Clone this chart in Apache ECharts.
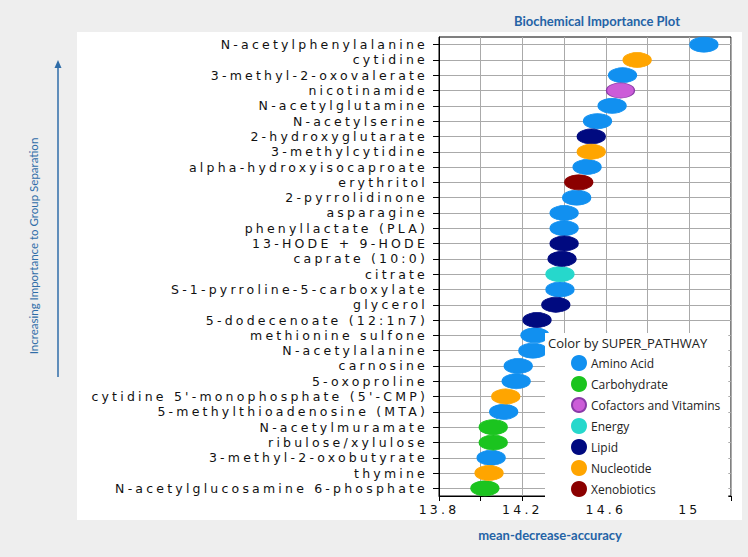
<!DOCTYPE html>
<html>
<head>
<meta charset="utf-8">
<script src="https://cdn.jsdelivr.net/npm/echarts@6/dist/echarts.min.js"></script>
<style>
    html, body { margin: 0; padding: 0; background: #eeeeee; }
    #chart { width: 748px; height: 557px; }
    /* the category / tick labels of the original are drawn very wide */
    #chart text[style*="DejaVu"], #chart text[font-family*="DejaVu"] { letter-spacing: 3.2px; }
</style>
</head>
<body>
<div id="chart"></div>
<script>
// compounds, most important first
const compounds = [
    'N-acetylphenylalanine', 'cytidine', '3-methyl-2-oxovalerate', 'nicotinamide',
    'N-acetylglutamine', 'N-acetylserine', '2-hydroxyglutarate', '3-methylcytidine',
    'alpha-hydroxyisocaproate', 'erythritol', '2-pyrrolidinone', 'asparagine',
    'phenyllactate (PLA)', '13-HODE + 9-HODE', 'caprate (10:0)', 'citrate',
    'S-1-pyrroline-5-carboxylate', 'glycerol', '5-dodecenoate (12:1n7)', 'methionine sulfone',
    'N-acetylalanine', 'carnosine', '5-oxoproline', "cytidine 5'-monophosphate (5'-CMP)",
    '5-methylthioadenosine (MTA)', 'N-acetylmuramate', 'ribulose/xylulose', '3-methyl-2-oxobutyrate',
    'thymine', 'N-acetylglucosamine 6-phosphate'
];

// mean decrease accuracy
const importance = [
    15.07, 14.75, 14.68, 14.67,
    14.63, 14.56, 14.53, 14.53,
    14.51, 14.47, 14.46, 14.40,
    14.40, 14.40, 14.39, 14.38,
    14.38, 14.36, 14.27, 14.26,
    14.25, 14.18, 14.17, 14.12,
    14.11, 14.06, 14.06, 14.05,
    14.04, 14.02
];

// super pathway of each compound
const pathways = [
    'Amino Acid', 'Nucleotide', 'Amino Acid', 'Cofactors and Vitamins',
    'Amino Acid', 'Amino Acid', 'Lipid', 'Nucleotide',
    'Amino Acid', 'Xenobiotics', 'Amino Acid', 'Amino Acid',
    'Amino Acid', 'Lipid', 'Lipid', 'Energy',
    'Amino Acid', 'Lipid', 'Lipid', 'Amino Acid',
    'Amino Acid', 'Amino Acid', 'Amino Acid', 'Nucleotide',
    'Amino Acid', 'Carbohydrate', 'Carbohydrate', 'Amino Acid',
    'Nucleotide', 'Carbohydrate'
];

const pathwayNames = ['Amino Acid', 'Carbohydrate', 'Cofactors and Vitamins', 'Energy', 'Lipid', 'Nucleotide', 'Xenobiotics'];
const pathwayColors = ['#1190f0', '#1bc41f', '#cc5cd8', '#26d8cc', '#000a80', '#ffa500', '#8b0000'];
const pathwayBorders = ['#1190f0', '#1bc41f', '#8a3aa8', '#26d8cc', '#000a80', '#ffa500', '#8b0000'];

const xTickLabels = ['13.8', '14.2', '14.6', '15'];

const blue = '#2463a6';

// one scatter series per pathway so the legend can show them
const series = pathwayNames.map((p, k) => ({
    name: p,
    type: 'scatter',
    symbol: 'circle',
    symbolSize: [28, 15],
    itemStyle: {
        color: pathwayColors[k],
        borderColor: pathwayBorders[k],
        borderWidth: 1,
        opacity: 1
    },
    emphasis: { disabled: true },
    data: compounds
        .map((c, i) => [importance[i], c, pathways[i]])
        .filter(d => d[2] === p)
        .map(d => [d[0], d[1]])
}));

const chart = echarts.init(document.getElementById('chart'), null, { renderer: 'svg' });

const options = {
    animation: false,
    backgroundColor: '#eeeeee',
    title: {
        text: 'Biochemical Importance Plot',
        left: 509,
        top: 9,
        textStyle: {
            fontFamily: 'Lato',
            fontWeight: 'bold',
            fontSize: 13,
            color: blue
        }
    },
    grid: {
        left: 439,
        right: 17,
        top: 37,
        bottom: 61,
        show: true,
        borderColor: '#000',
        borderWidth: 1,
        backgroundColor: 'transparent'
    },
    xAxis: {
        type: 'value',
        min: 13.8,
        max: 15.2,
        interval: 0.2,
        axisLine: { show: true, lineStyle: { color: '#000', width: 1 } },
        axisTick: { show: true, length: 5, lineStyle: { color: '#000' } },
        splitLine: { show: true, lineStyle: { color: '#aaaaaa', width: 1 } },
        axisLabel: {
            margin: 7,
            fontFamily: 'DejaVu Sans',
            fontSize: 12.5,
            color: '#111',
            formatter: function (v) {
                const s = String(+v.toFixed(1));
                return xTickLabels.includes(s) ? s : '';
            }
        }
    },
    yAxis: {
        type: 'category',
        data: compounds,
        inverse: true,
        axisLine: { show: true, lineStyle: { color: '#000', width: 1 } },
        axisTick: { show: true, alignWithLabel: true, length: 6, lineStyle: { color: '#000' } },
        splitLine: { show: true, alignWithLabel: true, lineStyle: { color: '#aaaaaa', width: 1 } },
        axisLabel: {
            margin: 11,
            interval: 0,
            fontFamily: 'DejaVu Sans',
            fontSize: 12.5,
            color: '#111'
        }
    },
    legend: {
        data: pathwayNames,
        orient: 'vertical',
        left: 545,
        top: 333,
        padding: [22, 8, 4, 26],
        itemGap: 5,
        itemWidth: 14,
        itemHeight: 14,
        icon: 'circle',
        backgroundColor: '#ffffff',
        selectedMode: false,
        textStyle: {
            fontFamily: 'Open Sans',
            fontSize: 12,
            color: '#222'
        }
    },
    graphic: [
        {
            type: 'rect',
            z: -10,
            shape: { x: 77, y: 32, width: 665, height: 488 },
            style: { fill: '#ffffff' },
            silent: true
        },
        {
            type: 'line',
            shape: { x1: 58, y1: 377, x2: 58, y2: 66 },
            style: { stroke: '#2f6da8', lineWidth: 1.5 },
            silent: true
        },
        {
            type: 'polygon',
            shape: { points: [[54.5, 68], [61.5, 68], [58, 60]] },
            style: { fill: '#2f6da8' },
            silent: true
        },
        {
            type: 'text',
            x: 33,
            y: 246,
            rotation: Math.PI / 2,
            style: {
                text: 'Increasing Importance to Group Separation',
                font: '11.5px Lato',
                fill: '#2f6da8',
                align: 'center',
                verticalAlign: 'middle'
            },
            silent: true
        },
        {
            type: 'text',
            x: 550,
            y: 535,
            style: {
                text: 'mean-decrease-accuracy',
                font: 'bold 13px Lato',
                fill: blue,
                align: 'center',
                verticalAlign: 'middle'
            },
            silent: true
        },
        {
            type: 'text',
            x: 548,
            y: 343,
            z: 100,
            style: {
                text: 'Color by SUPER_PATHWAY',
                font: '13px "Open Sans"',
                fill: '#222',
                align: 'left',
                verticalAlign: 'middle'
            },
            silent: true
        }
    ],
    series: series
};

chart.setOption(options);
</script>
</body>
</html>
